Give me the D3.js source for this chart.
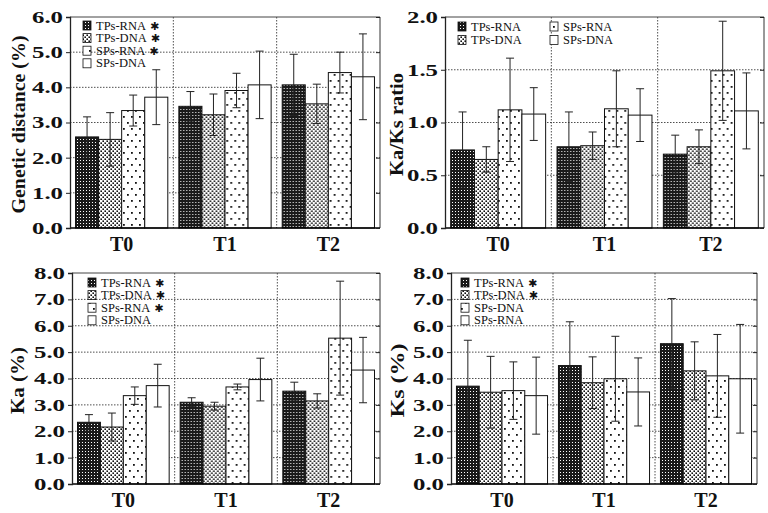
<!DOCTYPE html>
<html><head><meta charset="utf-8">
<script src="https://cdn.jsdelivr.net/npm/d3@7"></script>
<style>body{margin:0;background:#fff}svg{display:block}</style>
</head><body>
<svg id="c" width="768" height="513"></svg>
<script>
const categories = ["T0", "T1", "T2"];
const seriesNames = ["TPs-RNA", "TPs-DNA", "SPs-RNA", "SPs-DNA"];

// Genetic distance (%)
const gdMean = [[2.59, 2.52, 3.34, 3.72], [3.46, 3.22, 3.91, 4.07], [4.07, 3.53, 4.42, 4.30]];
const gdErr  = [[0.57, 0.76, 0.44, 0.78], [0.42, 0.59, 0.49, 0.96], [0.87, 0.56, 0.58, 1.22]];
// Ka/Ks ratio
const krMean = [[0.74, 0.65, 1.12, 1.08], [0.77, 0.78, 1.13, 1.07], [0.70, 0.77, 1.49, 1.11]];
const krErr  = [[0.36, 0.12, 0.49, 0.25], [0.33, 0.13, 0.36, 0.25], [0.18, 0.16, 0.47, 0.36]];
// Ka (%)
const kaMean = [[2.34, 2.16, 3.35, 3.73], [3.10, 2.95, 3.68, 3.96], [3.52, 3.15, 5.53, 4.32]];
const kaErr  = [[0.29, 0.53, 0.33, 0.81], [0.17, 0.15, 0.11, 0.81], [0.34, 0.27, 2.16, 1.24]];
// Ks (%)
const ksMean = [[3.71, 3.48, 3.54, 3.35], [4.49, 3.84, 3.99, 3.49], [5.32, 4.29, 4.10, 3.99]];
const ksErr  = [[1.74, 1.36, 1.09, 1.46], [1.66, 0.98, 1.61, 1.29], [1.71, 1.10, 1.57, 2.06]];

const ticksGD = [0, 1, 2, 3, 4, 5, 6];
const ticksKR = [0, 0.5, 1.0, 1.5, 2.0];
const ticksK  = [0, 1, 2, 3, 4, 5, 6, 7, 8];

const legendStar = ["TPs-RNA", "TPs-DNA", "SPs-RNA", "SPs-DNA"];
const legendStarFlag = [true, true, true, false];
const legendKs = ["TPs-RNA", "TPs-DNA", "SPs-DNA", "SPs-RNA"];
const legendKsFlag = [true, true, false, false];

const svg = d3.select("#c");
const defs = svg.append("defs");
// patterns
const p0 = defs.append("pattern").attr("id", "p0").attr("patternUnits", "userSpaceOnUse").attr("width", 3).attr("height", 3);
p0.append("rect").attr("width", 3).attr("height", 3).attr("fill", "#1a1a1a");
p0.append("rect").attr("x", 1).attr("y", 1).attr("width", 1).attr("height", 1).attr("fill", "#fff");
const p1 = defs.append("pattern").attr("id", "p1").attr("patternUnits", "userSpaceOnUse").attr("width", 4).attr("height", 4);
p1.append("rect").attr("width", 4).attr("height", 4).attr("fill", "#fff");
p1.append("rect").attr("x", 0.4).attr("y", 0.4).attr("width", 1.6).attr("height", 1.6).attr("fill", "#111");
p1.append("rect").attr("x", 2.4).attr("y", 2.4).attr("width", 1.6).attr("height", 1.6).attr("fill", "#111");
const p2 = defs.append("pattern").attr("id", "p2").attr("patternUnits", "userSpaceOnUse").attr("width", 8).attr("height", 12);
p2.append("rect").attr("width", 8).attr("height", 12).attr("fill", "#fff");
p2.append("rect").attr("x", 1).attr("y", 2).attr("width", 1.8).attr("height", 1.8).attr("fill", "#111");
p2.append("rect").attr("x", 5).attr("y", 8).attr("width", 1.8).attr("height", 1.8).attr("fill", "#111");
const fills = ["url(#p0)", "url(#p1)", "url(#p2)", "#fff"];

const panels = [
  {mean: gdMean, err: gdErr, ticks: ticksGD, title: "Genetic distance (%)", L: 70, R: 380, T: 17, B: 228, tx: 25, tlen: 178,
   leg: {labels: legendStar, star: legendStarFlag, x: 83, y: 21, cols: 1}},
  {mean: krMean, err: krErr, ticks: ticksKR, title: "Ka/Ks ratio", L: 445, R: 764, T: 17, B: 228, tx: 403, tlen: 103,
   leg: {labels: seriesNames, star: [false, false, false, false], x: 458, y: 22, cols: 2}},
  {mean: kaMean, err: kaErr, ticks: ticksK, title: "Ka (%)", L: 72, R: 380, T: 273, B: 484, tx: 24, tlen: 67,
   leg: {labels: legendStar, star: legendStarFlag, x: 88, y: 278, cols: 1}},
  {mean: ksMean, err: ksErr, ticks: ticksK, title: "Ks (%)", L: 451, R: 757, T: 273, B: 484, tx: 404, tlen: 74,
   leg: {labels: legendKs, star: legendKsFlag, x: 461, y: 278, cols: 1}}
];

const serif = "'Liberation Serif','Times New Roman',serif";

panels.forEach(p => {
  const g = svg.append("g");
  const ymax = p.ticks[p.ticks.length - 1];
  const y = d3.scaleLinear().domain([0, ymax]).range([p.B, p.T]);
  const x0 = d3.scaleBand().domain(categories).range([p.L, p.R]).paddingInner(0).paddingOuter(0);
  const x1 = d3.scaleBand().domain(seriesNames).range([0, x0.bandwidth()]).paddingInner(0).paddingOuter(0.24);

  // grid
  g.selectAll(".hg").data(p.ticks.filter(t => t > 0 && t < ymax)).join("line")
    .attr("x1", p.L).attr("x2", p.R).attr("y1", d => y(d)).attr("y2", d => y(d))
    .attr("stroke", "#222").attr("stroke-width", 0.8).attr("stroke-dasharray", "1.5,1.5");
  g.selectAll(".vg").data(categories.slice(1)).join("line")
    .attr("x1", d => x0(d)).attr("x2", d => x0(d)).attr("y1", p.T).attr("y2", p.B)
    .attr("stroke", "#222").attr("stroke-width", 0.8).attr("stroke-dasharray", "1.5,1.5");

  // bars
  const groups = g.selectAll(".grp").data(categories).join("g")
    .attr("transform", d => `translate(${x0(d)},0)`);
  groups.each(function(cat, ci) {
    const gg = d3.select(this);
    seriesNames.forEach((s, si) => {
      const v = p.mean[ci][si], e = p.err[ci][si];
      const bx = x1(s), bw = x1.bandwidth();
      gg.append("rect").attr("x", bx).attr("y", y(v)).attr("width", bw).attr("height", y(0) - y(v))
        .attr("fill", fills[si]).attr("stroke", "#111").attr("stroke-width", 1);
      const cx = bx + bw / 2;
      const eg = gg.append("g").attr("stroke", "#222").attr("stroke-width", 1);
      eg.append("line").attr("x1", cx).attr("x2", cx).attr("y1", y(v + e)).attr("y2", y(Math.max(0, v - e)));
      eg.append("line").attr("x1", cx - 4).attr("x2", cx + 4).attr("y1", y(v + e)).attr("y2", y(v + e));
      eg.append("line").attr("x1", cx - 4).attr("x2", cx + 4).attr("y1", y(v - e)).attr("y2", y(v - e));
    });
  });

  // frame
  g.append("line").attr("x1", p.L).attr("x2", p.R).attr("y1", p.T).attr("y2", p.T).attr("stroke", "#444").attr("stroke-width", 1);
  g.append("line").attr("x1", p.R).attr("x2", p.R).attr("y1", p.T).attr("y2", p.B).attr("stroke", "#333").attr("stroke-width", 1);
  g.append("line").attr("x1", p.L).attr("x2", p.R).attr("y1", p.B).attr("y2", p.B).attr("stroke", "#000").attr("stroke-width", 1.6);

  // left axis
  const ya = g.append("g").attr("transform", `translate(${p.L},0)`)
    .call(d3.axisLeft(y).tickValues(p.ticks).tickFormat(d3.format(".1f")).tickSize(4).tickPadding(3));
  ya.select(".domain").attr("stroke", "#222").attr("stroke-width", 1.3);
  ya.selectAll("line").attr("stroke", "#222");
  ya.selectAll("text").attr("font-family", serif).attr("font-weight", "bold").attr("font-size", 17)
    .attr("fill", "#111").attr("textLength", 31).attr("lengthAdjust", "spacingAndGlyphs");
  // right inner ticks
  const yr = g.append("g").attr("transform", `translate(${p.R},0)`)
    .call(d3.axisLeft(y).tickValues(p.ticks).tickFormat("").tickSize(4));
  yr.select(".domain").remove();
  yr.selectAll("line").attr("stroke", "#222");

  // x axis labels
  const xa = g.append("g").attr("transform", `translate(0,${p.B})`)
    .call(d3.axisBottom(x0).tickSize(0).tickPadding(9));
  xa.select(".domain").remove();
  xa.selectAll("text").attr("font-family", serif).attr("font-weight", "bold").attr("font-size", 20).attr("fill", "#111")
    .attr("dy", "0.71em");

  // y title
  g.append("text").attr("transform", `translate(${p.tx},${(p.T + p.B) / 2 + 2}) rotate(-90)`)
    .attr("text-anchor", "middle").attr("font-family", serif).attr("font-weight", "bold").attr("font-size", 19)
    .attr("fill", "#111").attr("textLength", p.tlen).attr("lengthAdjust", "spacingAndGlyphs").text(p.title);

  // legend
  const lg = g.append("g");
  const L = p.leg;
  L.labels.forEach((lab, i) => {
    let lx, ly;
    if (L.cols === 2) { lx = L.x + (i >= 2 ? 92 : 0); ly = L.y + (i % 2) * 13.5; }
    else { lx = L.x; ly = L.y + i * 12.6; }
    lg.append("rect").attr("x", lx).attr("y", ly).attr("width", 8).attr("height", 9)
      .attr("fill", fills[i]).attr("stroke", "#111").attr("stroke-width", 0.8);
    const t = lg.append("text").attr("x", lx + 13).attr("y", ly + 8.5)
      .attr("font-family", serif).attr("font-size", 12.5).attr("fill", "#111");
    t.append("tspan").text(lab);
    if (L.star[i]) {
      t.append("tspan").attr("font-family", "'DejaVu Sans',sans-serif").attr("font-size", 11).attr("dx", 4).text("✱");
    }
  });
});
</script>
</body></html>
